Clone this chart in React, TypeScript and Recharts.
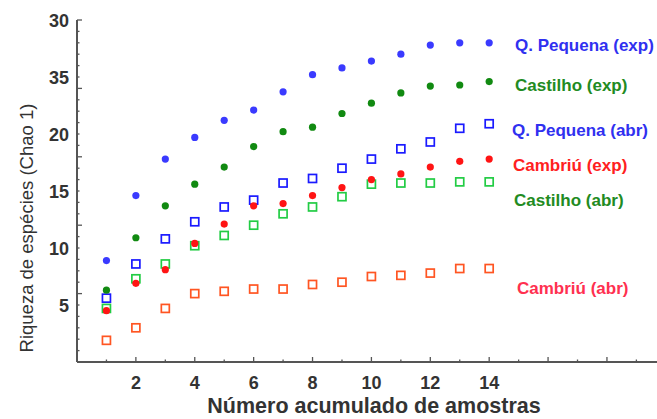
import React from "react";
import { ScatterChart, Scatter, XAxis, YAxis } from "recharts";

const samples = [1, 2, 3, 4, 5, 6, 7, 8, 9, 10, 11, 12, 13, 14];
const qPequenaExp = [8.9, 14.6, 17.8, 19.7, 21.2, 22.1, 23.7, 25.2, 25.8, 26.4, 27.0, 27.8, 28.0, 28.0];
const castilhoExp = [6.3, 10.9, 13.7, 15.6, 17.1, 18.9, 20.2, 20.6, 21.8, 22.7, 23.6, 24.2, 24.3, 24.6];
const qPequenaAbr = [5.6, 8.6, 10.8, 12.3, 13.6, 14.2, 15.7, 16.1, 17.0, 17.8, 18.7, 19.3, 20.5, 20.9];
const cambriuExp = [4.5, 6.9, 8.1, 10.4, 12.1, 13.7, 13.9, 14.6, 15.3, 16.0, 16.5, 17.1, 17.6, 17.8];
const castilhoAbr = [4.7, 7.3, 8.6, 10.2, 11.1, 12.0, 13.0, 13.6, 14.5, 15.6, 15.7, 15.7, 15.8, 15.8];
const cambriuAbr = [1.9, 3.0, 4.7, 6.0, 6.2, 6.4, 6.4, 6.8, 7.0, 7.5, 7.6, 7.8, 8.2, 8.2];

const xTicks = [1, 2, 3, 4, 5, 6, 7, 8, 9, 10, 11, 12, 13, 14, 15, 16, 17, 18, 19];
const xLabelValues = [2, 4, 6, 8, 10, 12, 14];
const xLabelTexts = ["2", "4", "6", "8", "10", "12", "14"];
const yTicks = [1, 2, 3, 4, 5, 6, 7, 8, 9, 10, 11, 12, 13, 14, 15, 16, 17, 18, 19, 20, 21, 22, 23, 24, 25, 26, 27, 28, 29, 30];
const yLabelValues = [5, 10, 15, 20, 25, 30];
const yLabelTexts = ["5", "10", "15", "20", "35", "30"];
const topTicks = [0.5, 1, 1.5, 2, 2.5, 3, 3.5, 4, 4.5, 5, 5.5, 6, 6.5, 7, 7.5];

const seriesNames = [
  "Q. Pequena (exp)",
  "Castilho (exp)",
  "Q. Pequena (abr)",
  "Cambriú (exp)",
  "Castilho (abr)",
  "Cambriú (abr)",
];

const toPoints = (vals: number[]) => samples.map((x, i) => ({ x, y: vals[i] }));

const FONT = "'Liberation Sans', Arial, sans-serif";
const AXIS = "#555";

const YTick = (props: any) => {
  const { x, y, payload } = props;
  const v = payload.value;
  const major = v % 6 === 0;
  const idx = yLabelValues.indexOf(v);
  return (
    <g>
      <line x1={x} x2={x + (major ? 5 : 2.5)} y1={y} y2={y} stroke={AXIS} strokeWidth={1.3} />
      {idx >= 0 && (
        <text x={x - 8} y={y} dy={6.5} textAnchor="end" fontSize={18} fontWeight="bold" fill="#333" fontFamily={FONT}>
          {yLabelTexts[idx]}
        </text>
      )}
    </g>
  );
};

const XTick = (props: any) => {
  const { x, y, payload } = props;
  const v = payload.value;
  const major = v % 2 === 0;
  const idx = xLabelValues.indexOf(v);
  return (
    <g>
      <line x1={x} x2={x} y1={y} y2={y - (major ? 5 : 2.5)} stroke={AXIS} strokeWidth={1.3} />
      {idx >= 0 && (
        <text x={x} y={y} dy={27} textAnchor="middle" fontSize={18} fontWeight="bold" fill="#333" fontFamily={FONT}>
          {xLabelTexts[idx]}
        </text>
      )}
    </g>
  );
};

const TopTick = (props: any) => {
  const { x, y, payload } = props;
  const v = payload.value;
  const major = Number.isInteger(v);
  return <line x1={x} x2={x} y1={y} y2={y + (major ? 4.5 : 2.5)} stroke={AXIS} strokeWidth={1.3} />;
};

const dot = (color: string) => (p: any) => <circle cx={p.cx} cy={p.cy} r={3.6} fill={color} />;
const square = (color: string) => (p: any) => (
  <rect x={p.cx - 4} y={p.cy - 4} width={8} height={8} fill="#fff" stroke={color} strokeWidth={1.7} />
);

const labelStyles = [
  { left: 515, top: 45, color: "#3030f0" },
  { left: 515, top: 85, color: "#228b22" },
  { left: 512, top: 130, color: "#3030f0" },
  { left: 513, top: 165, color: "#ff2020" },
  { left: 514, top: 200, color: "#228b22" },
  { left: 517, top: 288, color: "#ff3050" },
];

export default function App() {
  return (
    <div style={{ position: "absolute", left: 0, top: 0, width: 657, height: 419, background: "#fff", fontFamily: FONT }}>
      <ScatterChart width={657} height={419} margin={{ top: 20, right: 0, bottom: 17, left: 0 }}>
        <XAxis
          dataKey="x"
          type="number"
          domain={[0, 19.7]}
          ticks={xTicks}
          interval={0}
          allowDataOverflow
          height={40}
          tickSize={0}
          tickMargin={0}
          tickLine={false}
          tick={<XTick />}
          axisLine={{ stroke: AXIS, strokeWidth: 2 }}
        />
        <XAxis
          xAxisId="top"
          orientation="top"
          dataKey="x"
          type="number"
          domain={[0, 7.84]}
          ticks={topTicks}
          interval={0}
          allowDataOverflow
          height={0}
          tickSize={0}
          tickMargin={0}
          tickLine={false}
          tick={<TopTick />}
          axisLine={{ stroke: AXIS, strokeWidth: 1.5 }}
        />
        <YAxis
          dataKey="y"
          type="number"
          domain={[0, 30]}
          ticks={yTicks}
          interval={0}
          allowDataOverflow
          width={77}
          tickSize={0}
          tickMargin={0}
          tickLine={false}
          tick={<YTick />}
          axisLine={{ stroke: AXIS, strokeWidth: 2 }}
        />
        <Scatter name={seriesNames[5]} data={toPoints(cambriuAbr)} shape={square("#ff5522")} isAnimationActive={false} />
        <Scatter name={seriesNames[4]} data={toPoints(castilhoAbr)} shape={square("#22cc44")} isAnimationActive={false} />
        <Scatter name={seriesNames[2]} data={toPoints(qPequenaAbr)} shape={square("#1a1aff")} isAnimationActive={false} />
        <Scatter name={seriesNames[3]} data={toPoints(cambriuExp)} shape={dot("#ff1414")} isAnimationActive={false} />
        <Scatter name={seriesNames[1]} data={toPoints(castilhoExp)} shape={dot("#118a11")} isAnimationActive={false} />
        <Scatter name={seriesNames[0]} data={toPoints(qPequenaExp)} shape={dot("#3a3aff")} isAnimationActive={false} />
      </ScatterChart>
      {seriesNames.map((n, i) => (
        <div
          key={n}
          style={{
            position: "absolute",
            left: labelStyles[i].left,
            top: labelStyles[i].top,
            transform: "translateY(-50%)",
            color: labelStyles[i].color,
            fontSize: 17,
            fontWeight: "bold",
            whiteSpace: "nowrap",
            lineHeight: "19px",
          }}
        >
          {n}
        </div>
      ))}
      <div
        style={{
          position: "absolute",
          left: 374,
          top: 406,
          transform: "translate(-50%, -50%)",
          fontSize: 21.5,
          fontWeight: "bold",
          color: "#333",
          whiteSpace: "nowrap",
          lineHeight: "23px",
        }}
      >
        Número acumulado de amostras
      </div>
      <div
        style={{
          position: "absolute",
          left: 27,
          top: 228,
          transform: "translate(-50%, -50%) rotate(-90deg)",
          fontSize: 18.5,
          color: "#333",
          whiteSpace: "nowrap",
          lineHeight: "20px",
        }}
      >
        Riqueza de espécies (Chao 1)
      </div>
    </div>
  );
}
